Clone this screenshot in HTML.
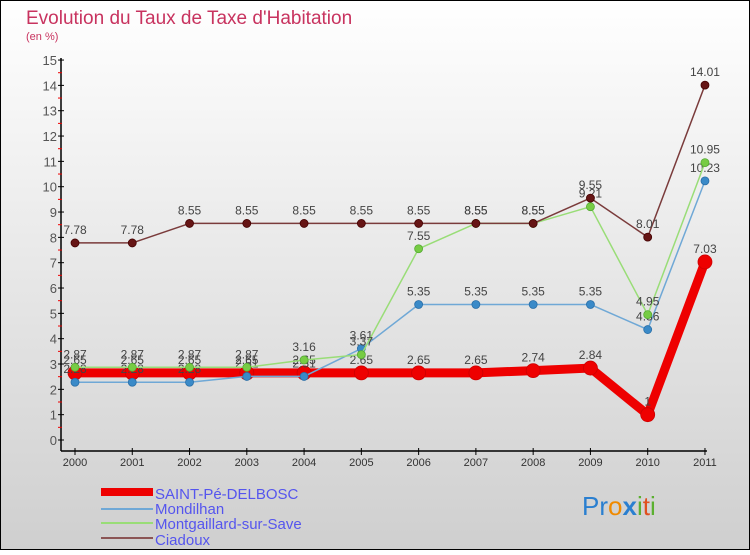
<!DOCTYPE html>
<html><head><meta charset="utf-8"><style>
body{margin:0;}
svg text{font-family:"Liberation Sans",sans-serif;}
</style></head><body>
<svg id="chart" width="750" height="550" xmlns="http://www.w3.org/2000/svg">
<defs><linearGradient id="bg" x1="0" y1="0" x2="0" y2="1"><stop offset="0" stop-color="#ffffff"/><stop offset="1" stop-color="#cfcfcf"/></linearGradient></defs>
<rect x="0.5" y="0.5" width="749" height="549" fill="url(#bg)" stroke="#000"/>
<text x="26" y="24" font-size="19" fill="#c8335f">Evolution du Taux de Taxe d'Habitation</text>
<text x="26" y="40" font-size="11" fill="#c8335f">(en %)</text>
<g id="axes"></g>
<g id="series"></g>
<g id="legend">
<rect x="101" y="488" width="52" height="8" fill="#ee0000"/>
<text x="155" y="499" font-size="15" fill="#5555ee">SAINT-Pé-DELBOSC</text>
<rect x="101" y="508" width="52" height="2" fill="#6fa8d6"/>
<text x="155" y="514" font-size="15" fill="#5555ee">Mondilhan</text>
<rect x="101" y="522" width="52" height="2" fill="#99dd77"/>
<text x="155" y="529" font-size="15" fill="#5555ee">Montgaillard-sur-Save</text>
<rect x="101" y="537" width="52" height="2" fill="#8b5555"/>
<text x="155" y="545" font-size="15" fill="#5555ee">Ciadoux</text>
</g>
<text x="582" y="515" font-size="26"><tspan fill="#2a7fd0">Pr</tspan><tspan fill="#f08a00">o</tspan><tspan fill="#2a7fd0" font-weight="bold">x</tspan><tspan fill="#5bb030">i</tspan><tspan fill="#e05020">t</tspan><tspan fill="#5bb030">i</tspan></text>
</svg>
<script>
const years=["2000","2001","2002","2003","2004","2005","2006","2007","2008","2009","2010","2011"];
const yTicks=[0,1,2,3,4,5,6,7,8,9,10,11,12,13,14,15];
const saintPe=[2.65,2.65,2.65,2.65,2.65,2.65,2.65,2.65,2.74,2.84,1,7.03];
const mondilhan=[2.28,2.28,2.28,2.51,2.51,3.61,5.35,5.35,5.35,5.35,4.36,10.23];
const montgaillard=[2.87,2.87,2.87,2.87,3.16,3.37,7.55,8.55,8.55,9.21,4.95,10.95];
const ciadoux=[7.78,7.78,8.55,8.55,8.55,8.55,8.55,8.55,8.55,9.55,8.01,14.01];

const NS="http://www.w3.org/2000/svg";
const X=i=>75+i*57.27;
const Y=v=>440-v*25.33;
function mk(tag,attrs,parent){const e=document.createElementNS(NS,tag);for(const k in attrs)e.setAttribute(k,attrs[k]);parent.appendChild(e);return e;}
const axes=document.getElementById('axes');
let a=mk('line',{x1:61,y1:Y(15)-2,x2:61,y2:451,stroke:'#000','stroke-width':1.5},axes);


a=mk('line',{x1:61,y1:451,x2:X(11)+2,y2:451,stroke:'#000','stroke-width':1.5},axes);


yTicks.forEach(v=>{
  mk('line',{x1:58,y1:Y(v),x2:64,y2:Y(v),stroke:'#000'},axes);
  if(v<15)mk('line',{x1:58,y1:Y(v+0.5),x2:62,y2:Y(v+0.5),stroke:'#e00'},axes);
  const t=mk('text',{x:57,y:Y(v)+5,'font-size':13,'text-anchor':'end',fill:'#555'},axes);
  t.textContent=v;
  
  
});
years.forEach((y,i)=>{
  mk('line',{x1:X(i),y1:448,x2:X(i),y2:455,stroke:'#000'},axes);
  const t=mk('text',{x:X(i),y:466,'font-size':11,'text-anchor':'middle',fill:'#333'},axes);
  t.textContent=y;
  
  
});
const sg=document.getElementById('series');
function series(vals,color,dot,w,r,name,stroke){
  const g=mk('g',{},sg);
  
  
  mk('polyline',{points:vals.map((v,i)=>X(i)+','+Y(v)).join(' '),fill:'none',stroke:color,'stroke-width':w,'stroke-linejoin':'round'},g);
  vals.forEach((v,i)=>{
    const c=mk('circle',{cx:X(i),cy:Y(v),r:r,fill:dot,stroke:stroke,'stroke-width':0.8},g);
    
    
    const t=mk('text',{x:X(i),y:Y(v)-9,'font-size':12,'text-anchor':'middle',fill:'#444'},g);
    t.textContent=String(v);
    
    
  });
}
series(saintPe,'#ee0000','#ee0000',9,7,'series-saint-pe','#cc0000');
series(mondilhan,'#6fa8d6','#3a8ac8',1.5,4,'series-mondilhan','#2a6fa8');
series(montgaillard,'#99dd77','#77cc44',1.5,4,'series-montgaillard','#55aa33');
series(ciadoux,'#7a3b3b','#661515',1.5,4,'series-ciadoux','#440000');
</script>
</body></html>
